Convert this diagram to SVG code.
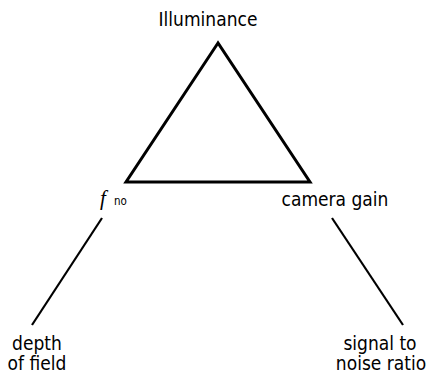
<svg xmlns="http://www.w3.org/2000/svg" width="427" height="376" viewBox="0 0 427 376">
<style>
.t{font-family:"DejaVu Sans Condensed","DejaVu Sans",sans-serif;font-stretch:condensed;font-size:19px;fill:#000;text-anchor:middle}
.c{stroke:#000;stroke-width:2.2;fill:none}
</style>
<rect width="427" height="376" fill="#fff"/>
<g id="illuminance"><text class="t" x="208" y="26">Illuminance</text></g>
<g id="triangle"><polygon points="218,43 126,182 310,182" fill="none" stroke="#000" stroke-width="3" stroke-linejoin="miter"/></g>
<g id="fno"><text x="100" y="205" font-family="'Liberation Serif',serif" font-style="italic" font-size="21">f</text><text x="114" y="205" font-family="'DejaVu Sans Condensed','DejaVu Sans',sans-serif" font-stretch="condensed" font-size="11.5">no</text></g>
<g id="camera-gain"><text class="t" x="335" y="206">camera gain</text></g>
<g id="depth"><text class="t" x="37" y="350">depth</text><text class="t" x="37" y="370">of field</text></g>
<g id="snr"><text class="t" x="380" y="350">signal to</text><text class="t" x="381" y="370">noise ratio</text></g>
<g id="connectors">
<line class="c" x1="102" y1="218" x2="32" y2="325"/>
<line class="c" x1="332" y1="218" x2="403" y2="325"/>
</g>
</svg>
